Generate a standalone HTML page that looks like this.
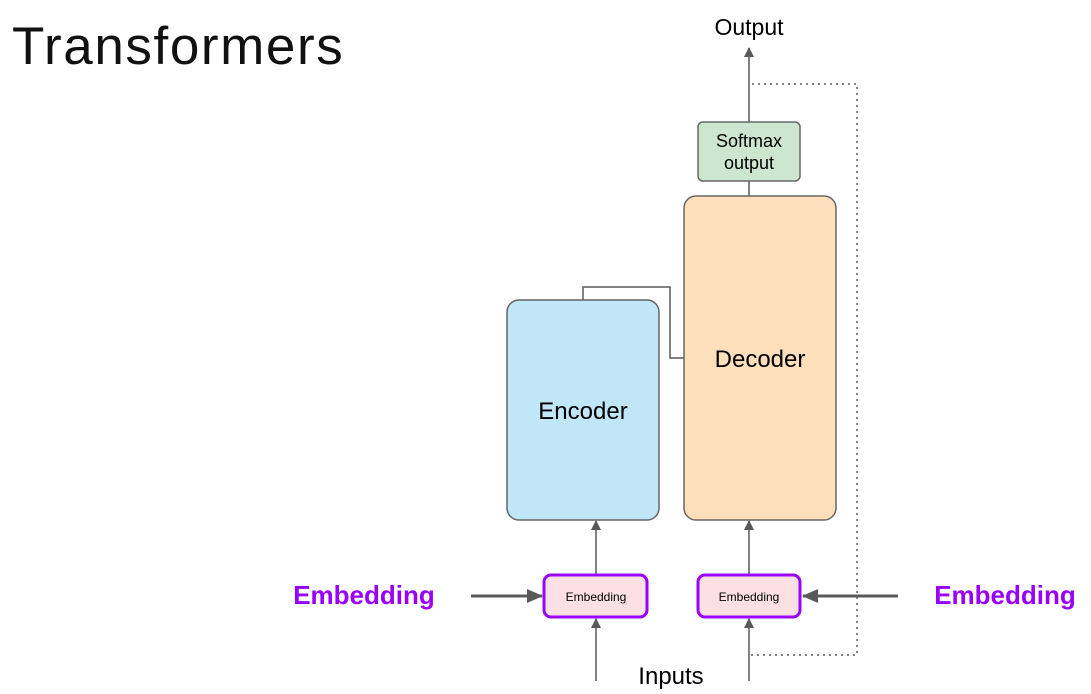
<!DOCTYPE html>
<html><head><style>
body{margin:0;width:1091px;height:694px;background:#fff;overflow:hidden;position:relative;font-family:"Liberation Sans",Arial,sans-serif}
.t{position:absolute;white-space:nowrap}
</style></head><body>
<div class="t" style="left:12px;top:16px;font-size:53px;color:#111;letter-spacing:1.6px">Transformers</div>
<svg width="1091" height="694" style="position:absolute;left:0;top:0">
<defs>
<marker id="a" markerWidth="10" markerHeight="10" refX="9" refY="5" orient="auto" markerUnits="userSpaceOnUse"><path d="M0,0 L10,5 L0,10z" fill="#595959"/></marker>
<marker id="b" markerWidth="16" markerHeight="14" refX="15" refY="7" orient="auto" markerUnits="userSpaceOnUse"><path d="M0,0 L16,7 L0,14z" fill="#595959"/></marker>
</defs>
<g fill="none" stroke="#595959" stroke-width="1.5">
<path d="M752,84 H857 V655 H750" stroke-dasharray="2,4"/>
<path d="M583,300 V287 H670 V358 H684"/>
<line x1="749" y1="122" x2="749" y2="48" marker-end="url(#a)"/>
<line x1="749" y1="181" x2="749" y2="196"/>
<line x1="596" y1="574" x2="596" y2="521" marker-end="url(#a)"/>
<line x1="749" y1="574" x2="749" y2="521" marker-end="url(#a)"/>
<line x1="596" y1="681" x2="596" y2="619" marker-end="url(#a)"/>
<line x1="749" y1="681" x2="749" y2="619" marker-end="url(#a)"/>
<line x1="471" y1="596" x2="542" y2="596" stroke-width="3" marker-end="url(#b)"/>
<line x1="898" y1="596" x2="803" y2="596" stroke-width="3" marker-end="url(#b)"/>
</g>
<rect x="507" y="300" width="152" height="220" rx="12" fill="#c0e6f7" stroke="#666" stroke-width="1.5"/>
<rect x="684" y="196" width="152" height="324" rx="12" fill="#fde0bb" stroke="#666" stroke-width="1.5"/>
<rect x="698" y="122" width="102" height="59" rx="5" fill="#cde6d0" stroke="#666" stroke-width="1.5"/>
<rect x="544" y="575" width="103" height="42" rx="7" fill="#fce0e3" stroke="#9900ff" stroke-width="3"/>
<rect x="698" y="575" width="102" height="42" rx="7" fill="#fce0e3" stroke="#9900ff" stroke-width="3"/>
<g font-family="Liberation Sans,Arial,sans-serif" fill="#000" text-anchor="middle">
<text x="749" y="35" font-size="23">Output</text>
<text x="749" y="147" font-size="18">Softmax</text>
<text x="749" y="169" font-size="18">output</text>
<text x="583" y="419" font-size="24">Encoder</text>
<text x="760" y="367" font-size="24">Decoder</text>
<text x="596" y="601" font-size="12">Embedding</text>
<text x="749" y="601" font-size="12">Embedding</text>
<text x="671" y="684" font-size="24">Inputs</text>
<text x="364" y="604" font-size="26" font-weight="bold" fill="#9900ff">Embedding</text>
<text x="1005" y="604" font-size="26" font-weight="bold" fill="#9900ff">Embedding</text>
</g>
</svg>
</body></html>
